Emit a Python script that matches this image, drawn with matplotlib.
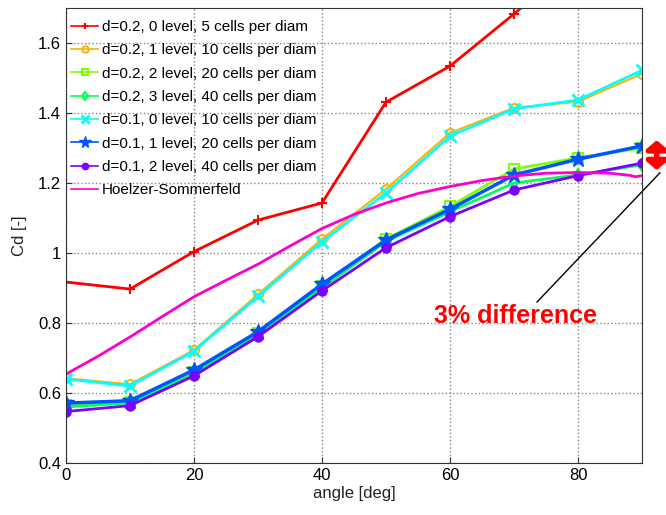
import matplotlib
matplotlib.use("Agg")
import matplotlib.pyplot as plt

plt.rcParams['font.family'] = ['Liberation Sans', 'DejaVu Sans']

angle = [0, 10, 20, 30, 40, 50, 60, 70, 80, 90]

red_d02_l0 = [0.917, 0.897, 1.004, 1.094, 1.143, 1.431, 1.534, 1.683, 1.84, 2.0]
orange_d02_l1 = [0.642, 0.625, 0.723, 0.882, 1.040, 1.183, 1.343, 1.415, 1.432, 1.512]
lime_d02_l2 = [0.565, 0.575, 0.660, 0.772, 0.905, 1.040, 1.133, 1.240, 1.272, 1.300]
green_d02_l3 = [0.560, 0.572, 0.655, 0.768, 0.900, 1.033, 1.118, 1.200, 1.223, 1.252]
cyan_d01_l0 = [0.640, 0.620, 0.720, 0.876, 1.032, 1.172, 1.334, 1.412, 1.437, 1.522]
blue_d01_l1 = [0.571, 0.578, 0.666, 0.775, 0.911, 1.037, 1.125, 1.223, 1.268, 1.306]
purple_d01_l2 = [0.547, 0.564, 0.649, 0.761, 0.892, 1.015, 1.104, 1.180, 1.221, 1.257]

hs_angle = [0, 5, 10, 15, 20, 25, 30, 35, 40, 45, 50, 55, 60, 65, 70, 75, 80, 85, 88, 89, 90]
hs_cd = [0.654, 0.705, 0.760, 0.818, 0.875, 0.922, 0.968, 1.020, 1.070, 1.110, 1.143, 1.170,
         1.190, 1.207, 1.220, 1.228, 1.230, 1.228, 1.222, 1.218, 1.221]

labels = ["d=0.2, 0 level, 5 cells per diam",
          "d=0.2, 1 level, 10 cells per diam",
          "d=0.2, 2 level, 20 cells per diam",
          "d=0.2, 3 level, 40 cells per diam",
          "d=0.1, 0 level, 10 cells per diam",
          "d=0.1, 1 level, 20 cells per diam",
          "d=0.1, 2 level, 40 cells per diam",
          "Hoelzer-Sommerfeld"]

xticks = [0, 20, 40, 60, 80]
yticks = [0.4, 0.6, 0.8, 1.0, 1.2, 1.4, 1.6]
yticklabels = ["0.4", "0.6", "0.8", "1", "1.2", "1.4", "1.6"]

fig = plt.figure(figsize=(6.66, 5.15), dpi=100)
ax = fig.add_axes([66/666, 1 - 463/515, (642-66)/666, (463-8)/515])

ax.plot(angle, red_d02_l0, color='#ff0000', lw=2, marker='+', ms=7, mew=1.5, label=labels[0])
ax.plot(angle, orange_d02_l1, color='#ffb300', lw=1.5, marker='o', ms=6.5, mfc='none', mew=1.5, label=labels[1])
ax.plot(angle, lime_d02_l2, color='#80ff00', lw=2, marker='s', ms=6.5, mfc='none', mew=1.5, label=labels[2])
ax.plot(angle, green_d02_l3, color='#00ff55', lw=2, marker='d', ms=6.5, mfc='none', mew=1.5, label=labels[3])
ax.plot(angle, cyan_d01_l0, color='#00ffff', lw=2, marker='x', ms=8, mew=2, label=labels[4])
ax.plot(angle, blue_d01_l1, color='#0055ff', lw=2.5, marker='*', ms=12, label=labels[5])
ax.plot(angle, purple_d01_l2, color='#8000ff', lw=2, marker='o', ms=6.5, label=labels[6])
ax.plot(hs_angle, hs_cd, color='#ff00cc', lw=2, label=labels[7])

ax.set_xlim(0, 90)
ax.set_ylim(0.4, 1.7)
ax.set_xticks(xticks)
ax.set_yticks(yticks)
ax.set_yticklabels(yticklabels)
ax.tick_params(labelsize=12, direction='in', length=4, color='#333333')
ax.grid(True, linestyle=':', color='#888888', lw=1)
for s in ax.spines.values():
    s.set_color('#333333')
ax.set_xlabel("angle [deg]", fontsize=12, color='#222222', labelpad=2)
ax.set_ylabel("Cd [-]", fontsize=12, color='#222222', labelpad=8)

leg = ax.legend(loc='upper left', bbox_to_anchor=(0.0, 0.985), fontsize=11, frameon=False,
                borderaxespad=0.05, handlelength=1.75, labelspacing=0.61,
                borderpad=0.3, handletextpad=0.25, markerscale=0.7)
for line in leg.get_lines():
    line.set_linewidth(1.2)

ax.text(70.2, 0.82, "3% difference", color='#ff0000', fontsize=18, fontweight='bold',
        ha='center', va='center')
ax.plot([73.6, 92.8], [0.86, 1.229], color='black', lw=1, clip_on=False)
ax.annotate("", xy=(92.3, 1.322), xytext=(92.3, 1.237),
            arrowprops=dict(arrowstyle="<|-|>,head_length=0.5,head_width=0.6",
                            color='#ff0000', lw=4, shrinkA=0, shrinkB=0),
            annotation_clip=False)

fig.savefig("out.png", dpi=100)
